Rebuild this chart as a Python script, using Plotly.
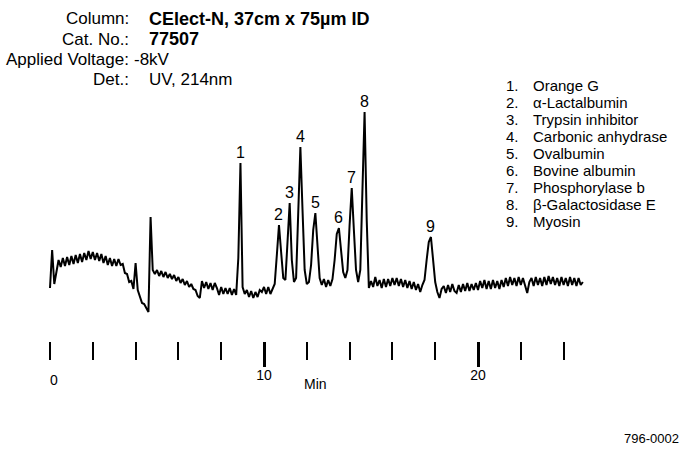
import plotly.graph_objects as go

# ---------------- data ----------------
# Electropherogram sampled every 0.1 min (0.0 ... 24.9 min); detector signal in arbitrary units
time_min = [round(i * 0.1, 1) for i in range(250)]
signal = [
    12, 50, 16, 30, 40, 33, 42, 34, 43, 35,      # 0.0 - 0.9
    44, 36, 45, 37, 46, 38, 47, 40, 49, 41,      # 1.0 - 1.9
    48, 40, 47, 39, 46, 37, 44, 35, 42, 34,      # 2.0 - 2.9
    41, 34, 41, 35, 36, 27, 26, 18, 19, 11,      # 3.0 - 3.9
    37, 10, 3, -3, -4, -8, -12, 83, 30, 26,      # 4.0 - 4.9
    30, 24, 29, 23, 28, 22, 26, 21, 25, 19,      # 5.0 - 5.9
    23, 17, 21, 15, 19, 13, 16, 11, 10, 4,       # 6.0 - 6.9
    2, 19, 12, 18, 11, 17, 10, 17, 12, 5,        # 7.0 - 7.9
    13, 6, 12, 6, 12, 5, 11, 5, 42, 137,         # 8.0 - 8.9
    13, 6, 10, 3, 9, 2, 8, 3, 10, 8,             # 9.0 - 9.9
    13, 6, 13, 6, 12, 16, 45, 75, 48, 22,        # 10.0 - 10.9
    20, 55, 97, 40, 18, 22, 80, 153, 90, 30,     # 11.0 - 11.9
    16, 18, 35, 70, 87, 50, 22, 15, 21, 13,      # 12.0 - 12.9
    20, 14, 21, 40, 66, 72, 48, 28, 22, 30,      # 13.0 - 13.9
    75, 112, 70, 30, 18, 30, 110, 188, 80, 12,   # 14.0 - 14.9
    19, 13, 23, 14, 20, 12, 21, 13, 21, 14,      # 15.0 - 15.9
    22, 15, 22, 14, 21, 13, 20, 12, 19, 11,      # 16.0 - 16.9
    18, 10, 16, 8, 15, 20, 40, 58, 63, 42,       # 17.0 - 17.9
    18, 8, 2, 11, 14, 7, 15, 8, 16, 9,           # 18.0 - 18.9
    7, 15, 8, 16, 9, 17, 9, 16, 10, 17,          # 19.0 - 19.9
    10, 19, 12, 20, 11, 19, 11, 20, 12, 19,      # 20.0 - 20.9
    11, 20, 13, 22, 14, 23, 15, 22, 14, 23,      # 21.0 - 21.9
    15, 22, 14, 7, 18, 22, 14, 23, 15, 22,       # 22.0 - 22.9
    14, 23, 15, 24, 16, 23, 15, 22, 14, 23,      # 23.0 - 23.9
    15, 22, 14, 23, 15, 22, 14, 22, 15, 18,      # 24.0 - 24.9
]

peak_numbers = ["1", "2", "3", "4", "5", "6", "7", "8", "9"]
peak_times = [8.9, 10.7, 11.2, 11.7, 12.4, 13.5, 14.1, 14.7, 17.8]
compounds = [
    "Orange G", "α-Lactalbumin", "Trypsin inhibitor", "Carbonic anhydrase",
    "Ovalbumin", "Bovine albumin", "Phosphorylase b", "β-Galactosidase E", "Myosin",
]

header_labels = ["Column:", "Cat. No.:", "Applied Voltage:", "Det.:"]
header_values = ["<b>CElect-N, 37cm x 75µm ID</b>", "<b>77507</b>", "-8kV", "UV, 214nm"]

major_ticks = [10, 20]
minor_ticks = [0, 2, 4, 6, 8, 10, 12, 14, 16, 18, 20, 22, 24]
zero_label = "0"
axis_title = "Min"
figure_code = "796-0002"

# ---------------- layout helpers ----------------
W, H = 679, 451
X0_PX, PX_PER_MIN = 50.0, 21.4
FONT = "Liberation Sans, Arial, Helvetica, sans-serif"


def px(x):
    return x / W


def py(y):
    return 1 - y / H


fig = go.Figure()
fig.add_trace(go.Scatter(
    x=time_min, y=signal, mode="lines",
    line=dict(color="black", width=2.0),
    hoverinfo="skip", showlegend=False,
))

annotations = []

# header block
for i, (lab, val) in enumerate(zip(header_labels, header_values)):
    yc = 19 + i * 20.3
    annotations.append(dict(text=lab, x=px(131), y=py(yc), xref="paper", yref="paper",
                            xanchor="right", yanchor="middle", showarrow=False,
                            font=dict(size=17, color="black", family=FONT)))
    bold = val.startswith("<b>")
    vx = 132 if val == "-8kV" else 147
    annotations.append(dict(text=val, x=px(vx), y=py(yc), xref="paper", yref="paper",
                            xanchor="left", yanchor="middle", showarrow=False,
                            font=dict(size=18 if bold else 17, color="black", family=FONT)))

# compound key
for i, (num, name) in enumerate(zip(peak_numbers, compounds)):
    yc = 85.5 + i * 17.0
    annotations.append(dict(text=num + ".", x=px(504), y=py(yc), xref="paper", yref="paper",
                            xanchor="left", yanchor="middle", showarrow=False,
                            font=dict(size=15, color="black", family=FONT)))
    annotations.append(dict(text=name, x=px(531), y=py(yc), xref="paper", yref="paper",
                            xanchor="left", yanchor="middle", showarrow=False,
                            font=dict(size=15, color="black", family=FONT)))

# peak labels, placed above each peak maximum
for num, t in zip(peak_numbers, peak_times):
    top = max(s for tt, s in zip(time_min, signal) if abs(tt - t) <= 0.15)
    annotations.append(dict(text=num, x=t, y=top, xref="x", yref="y",
                            xanchor="center", yanchor="bottom", yshift=0, showarrow=False,
                            font=dict(size=16, color="black", family=FONT)))

# "0" tick label and axis title
annotations.append(dict(text=zero_label, x=minor_ticks[0], y=py(380), xref="x", yref="paper",
                        xanchor="center", yanchor="middle", xshift=4, showarrow=False,
                        font=dict(size=14, color="black", family=FONT)))
annotations.append(dict(text=axis_title, x=12.4, y=py(384), xref="x", yref="paper",
                        xanchor="center", yanchor="middle", showarrow=False,
                        font=dict(size=14, color="black", family=FONT)))
annotations.append(dict(text=figure_code, x=px(622), y=py(438), xref="paper", yref="paper",
                        xanchor="left", yanchor="middle", showarrow=False,
                        font=dict(size=13, color="black", family=FONT)))

fig.update_layout(
    width=W, height=H,
    margin=dict(l=0, r=0, t=0, b=0),
    paper_bgcolor="white", plot_bgcolor="white",
    showlegend=False,
    annotations=annotations,
    xaxis=dict(
        range=[-X0_PX / PX_PER_MIN, (W - X0_PX) / PX_PER_MIN],
        anchor="free", position=py(341), side="bottom",
        showgrid=False, zeroline=False, showline=False,
        tickmode="array", tickvals=major_ticks, ticktext=[str(v) for v in major_ticks],
        ticks="outside", ticklen=25, tickwidth=2.5, tickcolor="black",
        ticklabelstandoff=-4,
        tickfont=dict(size=14, color="black", family=FONT),
        minor=dict(tickmode="array", tickvals=minor_ticks, ticks="outside",
                   ticklen=18, tickwidth=2, tickcolor="black", showgrid=False),
        fixedrange=True,
    ),
    yaxis=dict(range=[300 - H, 300], visible=False, fixedrange=True),
)

fig.write_html(
    "out.html",
    config={"displayModeBar": False},
    post_script="document.body.style.margin='0';document.body.style.overflow='hidden';",
)
